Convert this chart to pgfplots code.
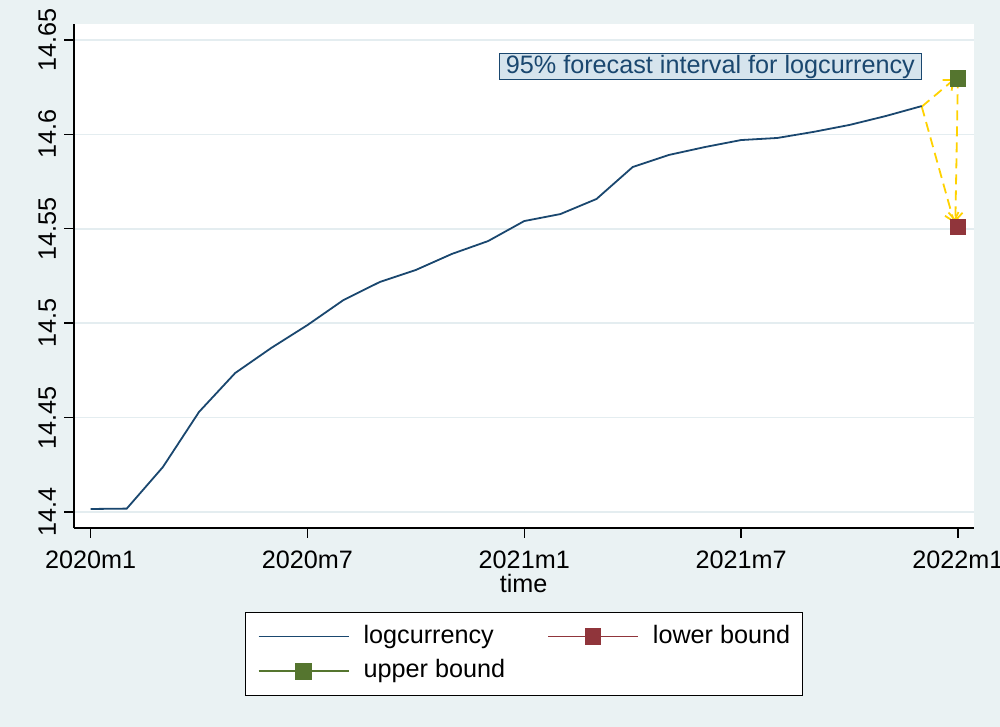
\documentclass[border=0pt]{standalone}
\usepackage{fontspec}
\setmainfont{Liberation Sans}
\usepackage{pgfplots}
\pgfplotsset{compat=1.18}
\usetikzlibrary{arrows.meta}

\definecolor{bgc}{HTML}{EAF2F3}
\definecolor{gridc}{HTML}{E4EDF0}
\definecolor{navy}{HTML}{1A476F}
\definecolor{maroonc}{HTML}{90353B}
\definecolor{greenc}{HTML}{55752F}
\definecolor{goldc}{HTML}{FFD200}
\definecolor{boxfill}{HTML}{D6E4ED}

\newcommand\cf{\fontsize{12.6}{15}\selectfont}

\begin{document}
\begin{tikzpicture}
\fill[bgc] (-37pt,-99.5pt) rectangle (463pt,264pt);
\begin{axis}[
    at={(0pt,0pt)}, anchor=south west,
    scale only axis,
    width=450pt, height=252pt,
    xmin=-0.4596, xmax=24.446,
    ymin=14.39153, ymax=14.65847,
    axis lines*=left,
    axis line style={-, line width=0.7pt, black},
    axis background/.style={fill=white},
    tick align=outside,
    major tick length=4.8pt,
    tick style={line width=0.7pt, black},
    xtick={0,6,12,18,24},
    xticklabels={2020m1,2020m7,2021m1,2021m7,2022m1},
    ytick={14.4,14.45,14.5,14.55,14.6,14.65},
    yticklabels={14.4,14.45,14.5,14.55,14.6,14.65},
    minor tick num=0,
    ymajorgrids,
    grid style={gridc, line width=0.8pt},
    xticklabel style={font=\cf, anchor=north, inner sep=0pt},
    xticklabel shift=6.5pt,
    yticklabel style={font=\cf, rotate=90, anchor=south, inner sep=0pt},
    yticklabel shift=4pt,
    xlabel={time},
    xlabel style={font=\cf, at={(axis description cs:0.4996,0)}, anchor=base, yshift=-32.5pt},
    legend columns=2,
    legend style={
        at={(axis description cs:0.5,-0.1667)}, anchor=north,
        draw=black, line width=0.6pt, fill=white,
        font=\cf, inner xsep=6pt, inner ysep=6pt,
        nodes={inner sep=0pt, text depth=2.7pt, text height=9.2pt},
        row sep=5.5pt,
        /tikz/every odd column/.append style={column sep=7pt},
        /tikz/every even column/.append style={column sep=21pt},
    },
    legend cell align=left,
    legend image code/.code={
        \draw[#1, line width=0.9pt, mark repeat=2, mark phase=2]
            plot coordinates {(0pt,0pt) (22.5pt,0pt) (45pt,0pt)};
    },
]

% forecast arrows (drawn first so markers sit on top)
\addplot[forget plot, goldc, line width=0.9pt, dash pattern=on 5pt off 3pt,
    quiver={u=\thisrow{u}, v=\thisrow{v},
        every arrow/.append style={-{Straight Barb[length=4pt,width=7pt]}}}]
    table[row sep=\\] {
    x y u v \\
    23 14.6147 0.90 0.0145 \\
    23 14.6147 0.90 -0.0616 \\
    24 14.6297 -0.07 -0.0761 \\
    };

\addplot[navy, line width=0.9pt, mark=none] table[row sep=\\] {
    t v \\
    0 14.4016 \\
    1 14.4018 \\
    2 14.4238 \\
    3 14.4530 \\
    4 14.4736 \\
    5 14.4869 \\
    6 14.4990 \\
    7 14.5123 \\
    8 14.5218 \\
    9 14.5282 \\
    10 14.5367 \\
    11 14.5435 \\
    12 14.5541 \\
    13 14.5578 \\
    14 14.5658 \\
    15 14.5827 \\
    16 14.5891 \\
    17 14.5933 \\
    18 14.5970 \\
    19 14.5981 \\
    20 14.6013 \\
    21 14.6050 \\
    22 14.6097 \\
    23 14.6150 \\
};
\addlegendentry{logcurrency}

\addplot[maroonc, line width=0.9pt, mark=square*, mark size=3.65pt,
    mark options={solid, fill=maroonc}] coordinates {(24,14.5508)};
\addlegendentry{lower bound}

\addplot[greenc, line width=0.9pt, mark=square*, mark size=3.65pt,
    mark options={solid, fill=greenc}] coordinates {(24,14.6297)};
\addlegendentry{upper bound}

\node[draw=navy, fill=boxfill, line width=0.6pt, text=navy, font=\cf,
    inner xsep=3.2pt, inner ysep=0.4pt, text height=9.3pt, text depth=2.7pt]
    at (axis cs:17.15,14.6360) {95\% forecast interval for logcurrency};

\end{axis}
\pgfresetboundingbox
\useasboundingbox (-37pt,-99.5pt) rectangle (463pt,264pt);
\end{tikzpicture}
\end{document}
